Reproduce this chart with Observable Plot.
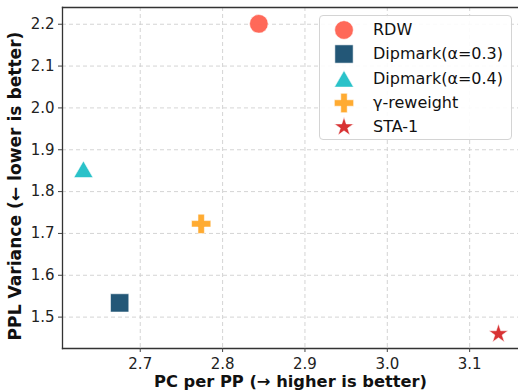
<!DOCTYPE html>
<html>
<head>
<meta charset="utf-8">
<script src="https://cdn.jsdelivr.net/npm/d3@7"></script>
<script src="https://cdn.jsdelivr.net/npm/@observablehq/plot@0.6"></script>
<style>
  body { margin: 0; background: #fff; font-family: "DejaVu Sans", sans-serif; }
  #chart { position: relative; width: 518px; height: 392px; overflow: hidden; }
  #chart svg { display: block; }
  .legend {
    position: absolute; left: 319px; top: 15px; width: 193px; height: 125px;
    box-sizing: border-box; border: 1px solid #d4d4d4; border-radius: 4px;
    background: rgba(255, 255, 255, 0.9);
  }
  .legend .row { position: absolute; left: 0; height: 24px; }
  .legend .row svg { position: absolute; left: 12px; top: 0; }
  .legend .row span { position: absolute; left: 53px; white-space: nowrap; font-size: 16px; color: #111; line-height: 24px; top: 0; }
</style>
</head>
<body>
<div id="chart"></div>
<script>
// Watermarking methods: detectability per perplexity vs. perplexity variance
const methods = ["RDW", "Dipmark(α=0.3)", "Dipmark(α=0.4)", "γ-reweight", "STA-1"];
const pcPerPP = [2.844, 2.675, 2.631, 2.774, 3.135];
const pplVariance = [2.201, 1.534, 1.853, 1.723, 1.460];
const xTicks = [2.7, 2.8, 2.9, 3.0, 3.1];
const yTicks = [1.5, 1.6, 1.7, 1.8, 1.9, 2.0, 2.1, 2.2];
const xLabel = "PC per PP (→ higher is better)";
const yLabel = "PPL Variance (← lower is better)";

// Marker style for each method (symbol, fill, radius, vertical nudge)
const styles = {
  "RDW":            { symbol: "circle",   fill: "#ff6150", r: 9.3,  dy: 0 },
  "Dipmark(α=0.3)": { symbol: "square",   fill: "#174e70", r: 10.3, dy: 0 },
  "Dipmark(α=0.4)": { symbol: "triangle", fill: "#1fbfc6", r: 7.1,  dy: 2.6 },
  "γ-reweight":     { symbol: "cross",    fill: "#ffa726", r: 8.1,  dy: 0 },
  "STA-1":          { symbol: "star",     fill: "#d62728", r: 6.0,  dy: 0 }
};

const rows = methods.map((m, i) => ({ method: m, x: pcPerPP[i], y: pplVariance[i] }));

const font = "DejaVu Sans";

const chart = Plot.plot({
  width: 518,
  height: 392,
  marginLeft: 62,
  marginRight: 0,
  marginTop: 7,
  marginBottom: 44,
  style: { fontFamily: font, background: "#fff", color: "#222" },
  x: { domain: [2.6056, 3.1593] },
  y: { domain: [1.425, 2.24] },
  marks: [
    Plot.gridX(xTicks, { stroke: "#cfcfcf", strokeOpacity: 1, strokeDasharray: "4,3", strokeWidth: 0.9 }),
    Plot.gridY(yTicks, { stroke: "#cfcfcf", strokeOpacity: 1, strokeDasharray: "4,3", strokeWidth: 0.9 }),
    Plot.frame({ anchor: "top", stroke: "#333", strokeWidth: 1.3 }),
    Plot.frame({ anchor: "left", stroke: "#333", strokeWidth: 1.3 }),
    Plot.frame({ anchor: "bottom", stroke: "#333", strokeWidth: 1.3 }),
    Plot.axisX(xTicks, { tickSize: 4, tickPadding: 6, fontSize: 15, tickFormat: d3.format(".1f"), label: null, stroke: "#444", fill: "#222" }),
    Plot.axisY(yTicks, { tickSize: 4, tickPadding: 4, fontSize: 15, tickFormat: d3.format(".1f"), label: null, stroke: "#444", fill: "#222" }),
    ...methods.map(m => Plot.dot(rows.filter(d => d.method === m), {
      x: "x", y: "y",
      symbol: styles[m].symbol,
      r: styles[m].r,
      dy: styles[m].dy,
      fill: styles[m].fill,
      fillOpacity: 0.95,
      stroke: "#fff",
      strokeOpacity: 0.55,
      strokeWidth: 1
    })),
    Plot.text([xLabel], {
      frameAnchor: "bottom", textAnchor: "middle", lineAnchor: "middle",
      dy: 33.5, fontSize: 16.3, fontWeight: "bold", fill: "#111"
    }),
    Plot.text([yLabel], {
      frameAnchor: "left", textAnchor: "middle", lineAnchor: "middle",
      rotate: -90, dx: -46.5, dy: 8, fontSize: 17.1, fontWeight: "bold", fill: "#111"
    })
  ]
});

const root = document.getElementById("chart");
root.appendChild(chart);

// Legend drawn over the upper-right of the plot area
const legend = document.createElement("div");
legend.className = "legend";
const symbolTypes = { circle: d3.symbolCircle, square: d3.symbolSquare, triangle: d3.symbolTriangle, cross: d3.symbolCross, star: d3.symbolStar };
methods.forEach((m, i) => {
  const s = styles[m];
  const row = document.createElement("div");
  row.className = "row";
  row.style.top = (2.3 + 24.1 * i) + "px";
  const path = d3.symbol(symbolTypes[s.symbol], s.r * s.r * Math.PI)();
  row.innerHTML =
    `<svg width="24" height="24" viewBox="-12 -12 24 24"><path d="${path}" transform="translate(0,${s.dy})" fill="${s.fill}" fill-opacity="0.95" stroke="#fff" stroke-opacity="0.55" stroke-width="1"/></svg>` +
    `<span>${m}</span>`;
  legend.appendChild(row);
});
root.appendChild(legend);
</script>
</body>
</html>
